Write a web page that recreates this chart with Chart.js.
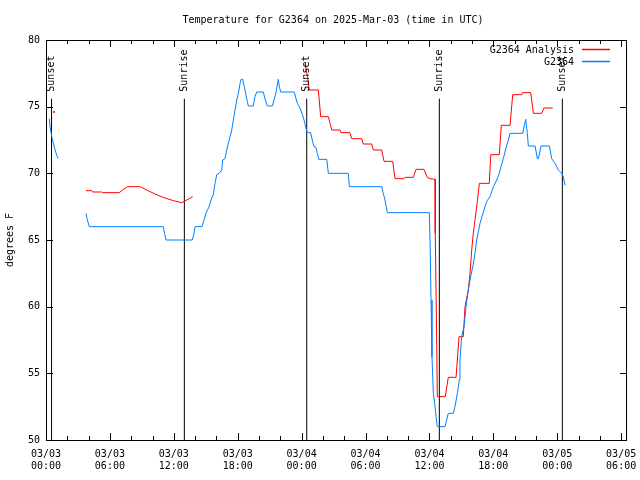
<!DOCTYPE html>
<html>
<head>
<meta charset="utf-8">
<script src="https://cdn.jsdelivr.net/npm/chart.js@4.4.0/dist/chart.umd.min.js"></script>
<style>
  body { margin: 0; background: #fff; }
  canvas { display: block; }
</style>
</head>
<body>
<canvas id="temp-chart" width="640" height="480"></canvas>
<script>
// Hours since 03/03 00:00 UTC and temperatures (degrees F); null = gap in the record
const stationHours = [0.31, 0.38, 0.54, 0.69, 0.85, 1.06, 1.13, 2.5,
  3.76, 3.85, 4.07, 11.01, 11.13, 11.27, 13.74, 13.90, 13.99,
  14.65, 14.84, 15.02, 15.31, 15.49, 15.71, 15.87, 16.03, 16.27, 16.50,
  16.59, 16.81, 16.97, 17.12, 17.28, 17.44, 17.59, 17.75, 17.91, 18.06,
  18.22, 18.31, 18.47, 18.59, 18.75, 18.90, 19.00, 19.46, 19.62, 19.78,
  20.40, 20.56, 20.78, 21.25, 21.41, 21.60, 21.81, 21.91, 22.04, 23.31,
  23.47, 23.60, 23.78, 23.92, 24.07, 24.23, 24.41, 24.48, 24.85, 25.00,
  25.16, 25.35, 25.47, 25.61, 26.36, 26.51, 28.38, 28.48, 31.52, 31.67,
  31.83, 32.05, 35.99, 36.06, 36.15, 36.24, 36.37, 36.53, 36.62, 36.74,
  37.46, 37.77, 38.24, 38.40, 38.62, 38.81, 38.87, 39.03, 39.25, 39.44,
  39.60, 39.81, 40.07, 40.28, 40.44, 40.75, 41.06, 41.38, 41.69, 42.00,
  42.32, 42.56, 42.72, 42.94, 43.19, 43.41, 43.57, 44.76, 44.91, 45.04,
  45.19, 45.29, 45.92, 46.13, 46.23, 46.48, 47.26, 47.48, 47.79, 48.10,
  48.42, 48.57, 48.73];
const stationTemps = [74.1, 73.5, 72.75, 72.25, 71.75, 71.25, 71.1, null,
  67.0, 66.6, 66.0, 66.0, 65.5, 65.0, 65.0, 65.5, 66.0,
  66.0, 66.5, 67.0, 67.5, 68.0, 68.4, 69.25, 69.9, 70.0, 70.25,
  71.0, 71.1, 71.75, 72.25, 72.75, 73.25, 74.0, 74.75, 75.5, 76.0,
  76.75, 77.05, 77.05, 76.6, 76.0, 75.4, 75.05, 75.05, 75.75, 76.1,
  76.1, 75.6, 75.05, 75.05, 75.5, 76.1, 77.05, 76.5, 76.1, 76.1,
  75.6, 75.25, 75.0, 74.75, 74.4, 74.0, 73.4, 73.1, 73.05, 72.5,
  72.0, 71.95, 71.5, 71.05, 71.05, 70.0, 70.0, 69.0, 69.0, 68.5,
  68.0, 67.05, 67.05, 64.9, 60.5, 56.25, 53.5, 52.5, 51.75, 51.0,
  51.0, 52.0, 52.0, 52.5, 53.5, 54.5, 56.0, 57.75, 58.5, 60.0,
  61.0, 62.0, 63.0, 64.0, 65.0, 66.25, 67.1, 67.9, 68.25, 69.0,
  69.5, 70.0, 70.5, 71.1, 71.9, 72.5, 73.0, 73.0, 73.6, 74.05,
  73.0, 72.05, 72.05, 71.1, 71.1, 72.05, 72.05, 71.1, 70.75, 70.25,
  70.0, 69.75, 69.1];

const analysisHours = [0.75, 2.5,
  3.76, 4.29, 4.37, 5.23, 5.31, 6.88, 7.26, 7.63, 8.83, 9.46, 10.23, 11.01,
  11.95, 12.74, 13.21, 13.77, 18.0,
  24.32, 24.60, 24.72, 25.57, 25.79, 26.51, 26.62, 26.83, 27.61, 27.70,
  28.54, 28.70, 29.64, 29.79, 30.58, 30.73, 31.52, 31.74, 32.55, 32.77,
  33.62, 33.71, 34.49, 34.74, 35.49, 35.80, 36.06, 36.53, 36.55, 36.68,
  36.74, 37.49, 37.77, 38.50, 38.78, 39.18, 39.34, 39.65, 39.81, 39.97,
  40.12, 40.28, 40.50, 40.69, 41.62, 41.76, 42.56, 42.75, 43.57, 43.82,
  44.67, 44.74, 45.51, 45.76, 46.54, 46.76, 47.58];
const analysisTemps = [74.6, null,
  68.7, 68.7, 68.6, 68.6, 68.55, 68.55, 68.8, 69.0, 69.0, 68.75, 68.45, 68.2,
  67.95, 67.8, 68.0, 68.25, null,
  78.2, 77.0, 76.25, 76.25, 74.25, 74.25, 73.9, 73.25, 73.25, 73.05,
  73.05, 72.6, 72.6, 72.2, 72.2, 71.75, 71.75, 70.9, 70.9, 69.6,
  69.6, 69.7, 69.7, 70.3, 70.3, 69.7, 69.6, 69.55, 65.5, 57.5,
  53.25, 53.25, 54.7, 54.7, 57.75, 57.75, 60.0, 61.25, 62.5, 64.25,
  65.5, 66.5, 67.9, 69.25, 69.25, 71.4, 71.4, 73.6, 73.6, 75.9,
  75.9, 76.05, 76.05, 74.5, 74.5, 74.9, 74.9];

// Sunrise / sunset markers
const sunHours = [0.52, 12.99, 24.48, 36.93, 48.48];
const sunLabels = ['Sunset', 'Sunrise', 'Sunset', 'Sunrise', 'Sunset'];
const sunTop = 75.6;

const xTickLabels = [['03/03', '00:00'], ['03/03', '06:00'], ['03/03', '12:00'],
  ['03/03', '18:00'], ['03/04', '00:00'], ['03/04', '06:00'], ['03/04', '12:00'],
  ['03/04', '18:00'], ['03/05', '00:00'], ['03/05', '06:00']];

const seriesNames = ['G2364 Analysis', 'G2364'];
const seriesColors = ['rgb(255, 0, 0)', 'rgb(0, 128, 255)'];

const FONT = '10px "DejaVu Sans Mono", "Liberation Mono", monospace';

function toPoints(hours, temps) {
  return hours.map((h, i) => ({ x: h, y: temps[i] }));
}

function sunPoints() {
  const pts = [];
  sunHours.forEach(h => {
    pts.push({ x: h, y: 50 }, { x: h, y: sunTop }, { x: h, y: null });
  });
  return pts;
}

// a single point with gaps on both sides gets drawn as a dot
function isolatedRadius(ctx) {
  const d = ctx.dataset.data;
  const i = ctx.dataIndex;
  const prev = d[i - 1], next = d[i + 1];
  const alone = d[i].y !== null && (!prev || prev.y === null) && (!next || next.y === null);
  return alone ? 1 : 0;
}

// gnuplot-like frame, inward ticks, labels and legend
const gnuplotDecor = {
  id: 'gnuplotDecor',
  beforeDraw(chart) {
    const c = chart.ctx;
    c.save();
    c.fillStyle = '#fff';
    c.fillRect(0, 0, chart.width, chart.height);
    c.restore();
  },
  afterDraw(chart) {
    const c = chart.ctx;
    const a = chart.chartArea;
    const xs = chart.scales.x;
    const ys = chart.scales.y;
    c.save();
    c.strokeStyle = '#000';
    c.lineWidth = 1;
    c.strokeRect(a.left + 0.5, a.top + 0.5, a.right - a.left - 1, a.bottom - a.top);

    c.beginPath();
    xs.ticks.forEach(t => {
      const px = Math.round(xs.getPixelForValue(t.value)) + 0.5;
      const len = t.value % 6 === 0 ? 7 : 4;
      c.moveTo(px, a.bottom); c.lineTo(px, a.bottom - len);
      c.moveTo(px, a.top); c.lineTo(px, a.top + len);
    });
    ys.ticks.forEach(t => {
      const py = Math.round(ys.getPixelForValue(t.value)) + 0.5;
      c.moveTo(a.left, py); c.lineTo(a.left + 7, py);
      c.moveTo(a.right, py); c.lineTo(a.right - 7, py);
    });
    c.stroke();

    c.fillStyle = '#000';
    c.font = FONT;

    // sunrise / sunset captions
    sunHours.forEach((h, i) => {
      const px = xs.getPixelForValue(h);
      const py = ys.getPixelForValue(sunTop) - 7;
      c.save();
      c.translate(px, py);
      c.rotate(-Math.PI / 2);
      c.textAlign = 'left';
      c.textBaseline = 'middle';
      c.fillText(sunLabels[i], 0, 0);
      c.restore();
    });

    // title
    c.textAlign = 'center';
    c.textBaseline = 'middle';
    c.fillText('Temperature for G2364 on 2025-Mar-03 (time in UTC)', 333, 20);

    // y axis title
    c.save();
    c.translate(10, 240);
    c.rotate(-Math.PI / 2);
    c.fillText('degrees F', 0, 0);
    c.restore();

    // legend: text right-aligned, colour sample on the right
    seriesNames.forEach((name, i) => {
      const y = 50 + i * 12;
      c.fillStyle = '#000';
      c.textAlign = 'right';
      c.fillText(name, 574, y);
      c.beginPath();
      c.strokeStyle = seriesColors[i];
      c.lineWidth = 1.5;
      c.moveTo(582, y - 0.5);
      c.lineTo(610, y - 0.5);
      c.stroke();
    });
    c.restore();
  }
};

// drop the extra room Chart.js keeps for the outer x labels
function fixXScale(s) {
  s.height = 40;
  s.paddingLeft = 0;
  s.paddingRight = 0;
}

const chart = new Chart(document.getElementById('temp-chart'), {
  type: 'line',
  data: {
    datasets: [
      {
        label: seriesNames[1],
        data: toPoints(stationHours, stationTemps),
        borderColor: seriesColors[1],
        borderWidth: 1,
        pointRadius: 0,
        order: 1
      },
      {
        label: seriesNames[0],
        data: toPoints(analysisHours, analysisTemps),
        borderColor: seriesColors[0],
        backgroundColor: seriesColors[0],
        borderWidth: 1,
        pointRadius: isolatedRadius,
        pointBorderWidth: 0,
        order: 2
      },
      {
        label: 'sun',
        data: sunPoints(),
        borderColor: '#000',
        borderWidth: 1,
        pointRadius: 0,
        order: 3
      }
    ]
  },
  options: {
    responsive: false,
    animation: false,
    spanGaps: false,
    layout: { padding: { top: 40, right: 13, left: 0, bottom: 0 } },
    plugins: {
      legend: { display: false },
      title: { display: false },
      tooltip: { enabled: false }
    },
    scales: {
      x: {
        type: 'linear',
        min: 0,
        max: 54.55,
        afterFit: fixXScale,
        grid: { display: false, drawTicks: false },
        border: { display: false },
        ticks: {
          stepSize: 2,
          includeBounds: false,
          autoSkip: false,
          maxRotation: 0,
          padding: 8,
          color: '#000',
          font: { family: '"DejaVu Sans Mono", monospace', size: 10, lineHeight: 1.2 },
          callback: v => (v % 6 === 0 ? xTickLabels[v / 6] : '')
        }
      },
      y: {
        min: 50,
        max: 80,
        afterFit: s => { s.width = 46; },
        grid: { display: false, drawTicks: false },
        border: { display: false },
        ticks: {
          stepSize: 5,
          padding: 6,
          color: '#000',
          font: { family: '"DejaVu Sans Mono", monospace', size: 10 }
        }
      }
    }
  },
  plugins: [gnuplotDecor]
});
</script>
</body>
</html>
